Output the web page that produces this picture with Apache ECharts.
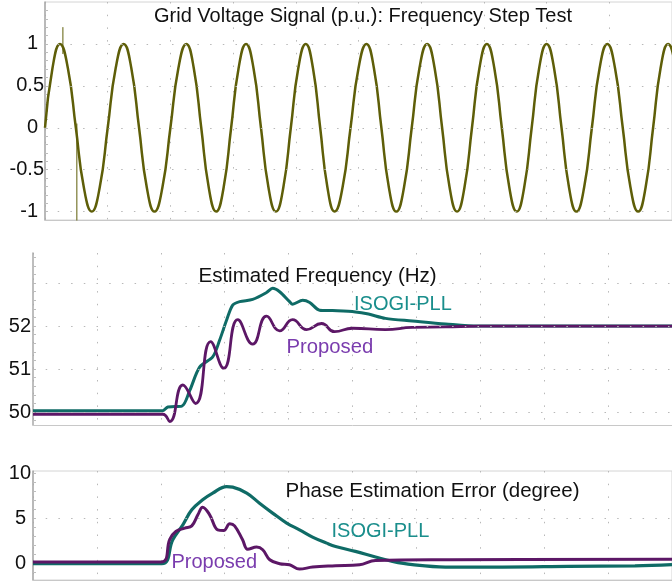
<!DOCTYPE html>
<html>
<head>
<meta charset="utf-8">
<script src="https://cdn.jsdelivr.net/npm/echarts@6/dist/echarts.min.js"></script>
<style>html,body{margin:0;padding:0;background:#fff}#c{width:672px;height:583px}</style>
</head>
<body>
<div id="c"></div>
<script>
// ---- Data (time in ms) ----
const sineT = [0, 2.38, 4.76, 7.3, 9.84, 12.38, 14.92, 17.46, 20.0, 22.54, 25.08, 27.54, 30.0, 32.46, 34.92, 37.46, 40.0, 42.54, 45.08, 47.46, 49.84, 52.22, 54.6, 56.99, 59.37, 61.75, 64.13, 66.51, 68.89, 71.27, 73.65, 76.03, 78.41, 80.79, 83.17, 85.48, 87.78, 90.08, 92.38, 94.92, 97.46, 100.0, 102.54, 104.92, 107.3, 109.68, 112.06, 114.52, 116.98, 119.44, 121.9, 124.29, 126.67, 129.05, 131.43, 133.81, 136.19, 138.57, 140.95, 143.33, 145.71, 148.1, 150.48, 152.86, 155.24, 157.62, 160.0, 162.38, 164.76, 167.14, 169.52, 171.98, 174.44, 176.9, 179.37, 181.83, 184.29, 186.75, 189.2, 191.59, 193.97, 196.35, 198.73, 201.17, 203.6];
const sineV = [0, 0.71, 1, 0.71, 0, -0.71, -1, -0.71, 0, 0.71, 1, 0.71, 0, -0.71, -1, -0.71, 0, 0.71, 1, 0.71, 0, -0.71, -1, -0.71, 0, 0.71, 1, 0.71, 0, -0.71, -1, -0.71, 0, 0.71, 1, 0.71, 0, -0.71, -1, -0.71, 0, 0.71, 1, 0.71, 0, -0.71, -1, -0.71, 0, 0.71, 1, 0.71, 0, -0.71, -1, -0.71, 0, 0.71, 1, 0.71, 0, -0.71, -1, -0.71, 0, 0.71, 1, 0.71, 0, -0.71, -1, -0.71, 0, 0.71, 1, 0.71, 0, -0.71, -1, -0.71, 0, 0.71, 1, 0.71, 0];
const spikeUpT = [5.71, 5.71];
const spikeUpV = [0.88, 1.2];
const spikeDownT = [10.16, 10.16];
const spikeDownV = [0.05, -1.3];

const isogiFreqT = [0, 40.6, 42.2, 46.6, 49.1, 52.2, 56.3, 58.4, 60.6, 62.5, 64.7, 68.75, 73.1, 75, 77.2, 80.3, 81.25, 84.4, 86.6, 89.7, 93.75, 100.9, 105, 110.3, 118.75, 129.1, 139.4, 200];
const isogiFreq = [50.03, 50.03, 50.12, 50.14, 50.51, 51.05, 51.29, 51.67, 52.14, 52.49, 52.57, 52.62, 52.78, 52.88, 52.8, 52.57, 52.51, 52.6, 52.55, 52.37, 52.36, 52.33, 52.28, 52.18, 52.12, 52.05, 52.0, 52.0];
const propFreqT = [0, 40.6, 42.8, 46.9, 50.9, 55.6, 59.7, 64.1, 68.75, 73.1, 77.2, 81.25, 85.6, 90.3, 94.4, 100, 110.3, 118.75, 129.1, 139.7, 200];
const propFreq = [49.95, 49.95, 49.78, 50.63, 50.2, 51.64, 51.02, 52.15, 51.58, 52.23, 51.89, 52.15, 51.92, 52.06, 51.87, 51.95, 51.92, 51.97, 51.98, 52.0, 52.0];

const isogiErrT = [0, 40.3, 43.75, 46.9, 49.7, 53.1, 56.25, 60.6, 62.5, 66.9, 70.9, 75, 79.4, 83.4, 87.5, 91.9, 94.7, 100.9, 107.2, 112.5, 118.75, 129.1, 146.9, 167.5, 188.4, 200];
const isogiErr = [-0.05, -0.05, 2.61, 4.28, 5.94, 7.05, 7.8, 8.53, 8.47, 7.8, 6.68, 5.58, 4.47, 3.72, 2.91, 2.24, 1.87, 1.32, 0.69, 0.21, -0.16, -0.42, -0.42, -0.35, -0.28, -0.16];
const propErrT = [0, 40.3, 42.8, 44.7, 47.5, 49.7, 51.6, 53.1, 55.3, 57.8, 59.7, 61.6, 63.1, 65.6, 67.2, 70, 71.9, 74.1, 77.2, 80.3, 83.4, 87.5, 94.7, 102.2, 107.2, 130.3, 200];
const propErr = [0.15, 0.15, 2.67, 3.54, 3.9, 4.16, 5.39, 6.24, 5.39, 3.72, 3.65, 4.39, 4.16, 2.61, 1.57, 1.8, 1.5, 0.39, -0.05, -0.16, -0.65, -0.42, -0.28, -0.16, 0.32, 0.39, 0.46];

// tick labels / gridline values
const voltTicks = [-1, -0.5, 0, 0.5, 1];
const voltMinor = [-1, -0.9, -0.8, -0.7, -0.6, -0.5, -0.4, -0.3, -0.2, -0.1, 0, 0.1, 0.2, 0.3, 0.4, 0.5, 0.6, 0.7, 0.8, 0.9, 1, 1.1, 1.2, 1.3, 1.4];
const freqTicks = [50, 51, 52];
const freqGrid = [50, 51, 52, 53];
const freqMinor = [49.8, 50, 50.2, 50.4, 50.6, 50.8, 51, 51.2, 51.4, 51.6, 51.8, 52, 52.2, 52.4, 52.6, 52.8, 53, 53.2, 53.4, 53.6];
const errTicks = [0, 5, 10];
const errGrid = [5];
const errMinor = [-1, 0, 1, 2, 3, 4, 5, 6, 7, 8, 9, 10];

// ---- Build ----
const zip = (t, v) => t.map((x, i) => [x, v[i]]);
const FONT = '"Liberation Sans", Arial, sans-serif';
const TEAL = '#0f6b66', PURPLE = '#5c1766', OLIVE = '#5e5e08';
const TEAL_TXT = '#1a8e8c', PURPLE_TXT = '#7a3cae';
const dotted = {color: '#b8b8b8', width: 1, type: [1.5, 11.2]};
const gridMark = vals => ({
  silent: true, symbol: ['none', 'none'], animation: false,
  label: {show: false}, lineStyle: dotted,
  data: vals.map(v => ({yAxis: v}))
});
const xAx = gi => ({
  type: 'value', gridIndex: gi, min: 0, max: 200, interval: 20,
  axisLine: {show: true, onZero: false, lineStyle: {color: '#c8c8c8', width: 1}},
  axisTick: {show: false}, axisLabel: {show: false},
  splitLine: {show: true, lineStyle: dotted}
});
const minorTicks = vals => ({show: true, inside: true, length: 3, customValues: vals, lineStyle: {color: '#bdbdbd', width: 1}});
const labelBase = {color: '#111', fontSize: 20, fontFamily: FONT};

const option = {
  animation: false,
  backgroundColor: '#fff',
  grid: [
    {left: 45, top: 2, width: 630, height: 218, show: true, borderColor: '#d4d4d4', borderWidth: 1, backgroundColor: 'transparent'},
    {left: 33, top: 253, width: 640, height: 172, show: false},
    {left: 33, top: 471, width: 640, height: 109, show: true, borderColor: '#d4d4d4', borderWidth: 1, backgroundColor: 'transparent'}
  ],
  xAxis: [xAx(0), xAx(1), xAx(2)],
  yAxis: [
    {type: 'value', gridIndex: 0, min: -1.1, max: 1.5,
     axisLine: {show: true, lineStyle: {color: '#a8a8a8', width: 1.5}},
     axisTick: minorTicks(voltMinor), splitLine: {show: false},
     axisLabel: Object.assign({}, labelBase, {customValues: voltTicks, margin: 1,
       formatter: v => Number.isInteger(v) ? '{i|' + v + '}' : '{f|' + v + '}',
       rich: {i: Object.assign({}, labelBase, {padding: [0, 6, 0, 0]}), f: Object.assign({}, labelBase)}})},
    {type: 'value', gridIndex: 1, min: 49.7, max: 53.7,
     axisLine: {show: true, lineStyle: {color: '#a8a8a8', width: 1.5}},
     axisTick: minorTicks(freqMinor), splitLine: {show: false},
     axisLabel: Object.assign({}, labelBase, {customValues: freqTicks, margin: 2})},
    {type: 'value', gridIndex: 2, min: -1.86, max: 10.26,
     axisLine: {show: true, lineStyle: {color: '#a8a8a8', width: 1.5}},
     axisTick: minorTicks(errMinor), splitLine: {show: false},
     axisLabel: Object.assign({}, labelBase, {customValues: errTicks, margin: 2,
       formatter: v => v >= 10 ? '{a|' + v + '}' : '{b|' + v + '}',
       rich: {a: Object.assign({}, labelBase), b: Object.assign({}, labelBase, {padding: [0, 5, 0, 0]})}})}
  ],
  title: [
    {text: 'Grid Voltage Signal (p.u.): Frequency Step Test', left: 154, top: 6, padding: 0,
     textStyle: {color: '#111', fontSize: 20, fontWeight: 'normal', fontFamily: FONT}},
    {text: 'Estimated Frequency (Hz)', left: 198.5, top: 266, padding: 0,
     textStyle: {color: '#111', fontSize: 20.5, fontWeight: 'normal', fontFamily: FONT}},
    {text: 'ISOGI-PLL', left: 354, top: 294.5, padding: 0,
     textStyle: {color: TEAL_TXT, fontSize: 20, fontWeight: 'normal', fontFamily: FONT}},
    {text: 'Proposed', left: 286.5, top: 337, padding: 0,
     textStyle: {color: PURPLE_TXT, fontSize: 20.3, fontWeight: 'normal', fontFamily: FONT}},
    {text: 'Phase Estimation Error (degree)', left: 285.5, top: 481, padding: 0,
     textStyle: {color: '#111', fontSize: 20.5, fontWeight: 'normal', fontFamily: FONT}},
    {text: 'ISOGI-PLL', left: 331.5, top: 521, padding: 0,
     textStyle: {color: TEAL_TXT, fontSize: 20, fontWeight: 'normal', fontFamily: FONT}},
    {text: 'Proposed', left: 171.5, top: 552, padding: 0,
     textStyle: {color: PURPLE_TXT, fontSize: 20, fontWeight: 'normal', fontFamily: FONT}}
  ],
  series: [
    {type: 'line', xAxisIndex: 0, yAxisIndex: 0, data: zip(sineT, sineV), smooth: 0.5,
     showSymbol: false, lineStyle: {color: OLIVE, width: 2.5}, markLine: gridMark(voltTicks), z: 3},
    {type: 'line', xAxisIndex: 0, yAxisIndex: 0, data: zip(spikeUpT, spikeUpV),
     showSymbol: false, lineStyle: {color: OLIVE, width: 1}, z: 3},
    {type: 'line', xAxisIndex: 0, yAxisIndex: 0, data: zip(spikeDownT, spikeDownV),
     showSymbol: false, lineStyle: {color: OLIVE, width: 1}, z: 3},

    {type: 'line', xAxisIndex: 1, yAxisIndex: 1, data: zip(isogiFreqT, isogiFreq), smooth: 0.3,
     showSymbol: false, lineStyle: {color: TEAL, width: 3}, markLine: gridMark(freqGrid), z: 3},
    {type: 'line', xAxisIndex: 1, yAxisIndex: 1, data: zip(propFreqT, propFreq), smooth: 0.5,
     showSymbol: false, lineStyle: {color: PURPLE, width: 2.8}, z: 4},

    {type: 'line', xAxisIndex: 2, yAxisIndex: 2, data: zip(isogiErrT, isogiErr), smooth: 0.4,
     showSymbol: false, lineStyle: {color: TEAL, width: 3.2}, markLine: gridMark(errGrid), z: 3},
    {type: 'line', xAxisIndex: 2, yAxisIndex: 2, data: zip(propErrT, propErr), smooth: 0.4,
     showSymbol: false, lineStyle: {color: PURPLE, width: 3}, z: 4}
  ]
};
echarts.init(document.getElementById('c'), null, {renderer: 'canvas'}).setOption(option);
</script>
</body>
</html>
